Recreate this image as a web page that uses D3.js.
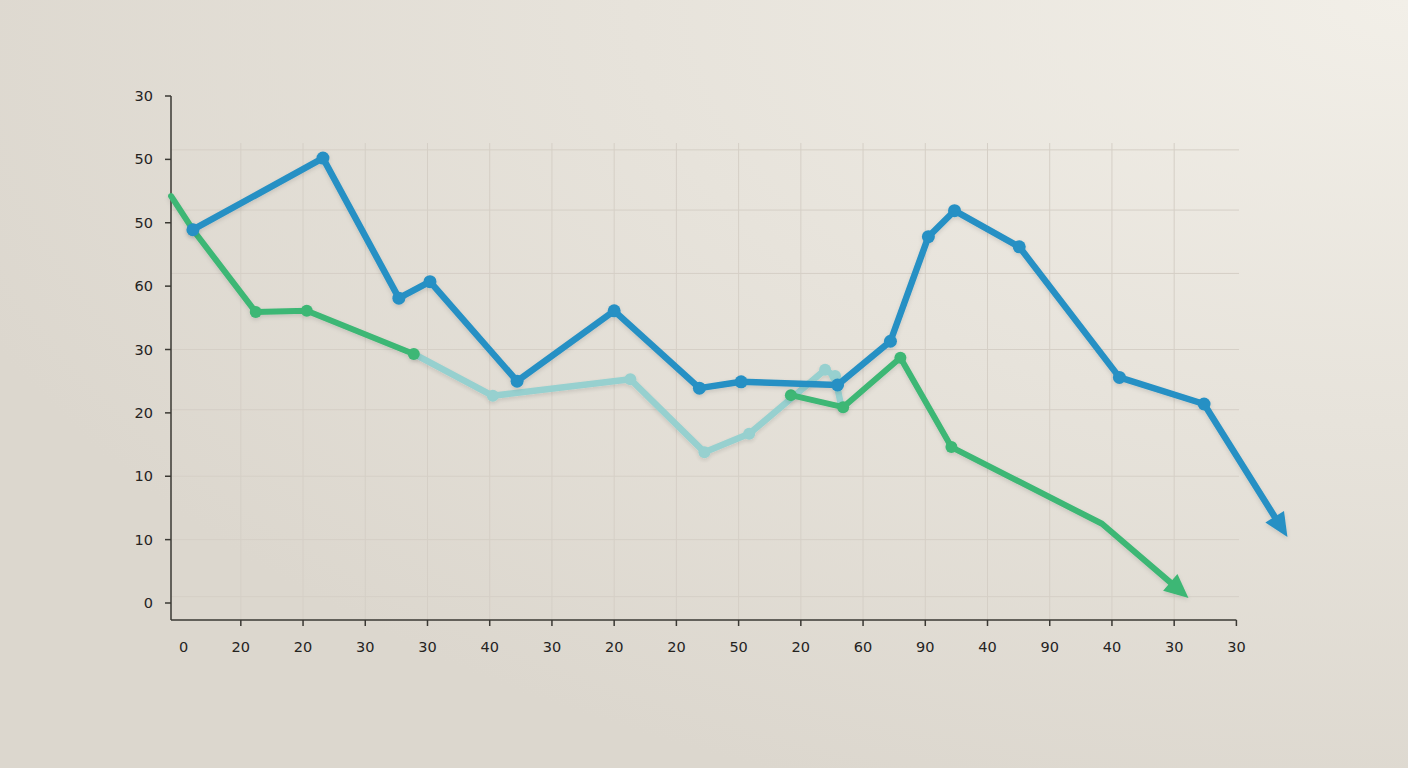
<!DOCTYPE html>
<html>
<head>
<meta charset="utf-8">
<script src="https://cdn.jsdelivr.net/npm/d3@7"></script>
<style>
  html, body { margin: 0; padding: 0; }
  body { width: 1408px; height: 768px; overflow: hidden; }
</style>
</head>
<body>
<svg id="chart" width="1408" height="768"></svg>
<script>
// tick labels as printed on the chart
const xLabels = ["0", "20", "20", "30", "30", "40", "30", "20", "20", "50", "20", "60", "90", "40", "90", "40", "30", "30"];
const yLabels = ["0", "10", "10", "20", "30", "60", "50", "50", "30"];
const yTickValues = [0, 10, 20, 30, 40, 50, 60, 70, 80];
const hGridValues = [1, 10, 20, 30.5, 40, 52, 62, 71.5];

// series, x in category units, y in chart units
const blueX = [0.23, 2.32, 3.54, 4.04, 5.44, 7.00, 8.37, 9.04, 10.59, 11.44, 12.05, 12.47, 13.51, 15.12, 16.48, 17.82];
const blueY = [58.9, 70.2, 48.1, 50.7, 35.0, 46.1, 33.9, 34.9, 34.4, 41.3, 57.8, 61.9, 56.2, 35.6, 31.4, 10.4];

const greenX1 = [-0.12, 0.23, 1.24, 2.06, 3.78];
const greenY1 = [64.2, 58.9, 45.9, 46.1, 39.3];
const greenX2 = [9.84, 10.68, 11.60, 12.42, 14.84, 16.23];
const greenY2 = [32.8, 30.9, 38.7, 24.6, 12.5, 0.8];

const tealX = [3.78, 5.05, 7.26, 8.45, 9.17, 10.39, 10.55, 10.66];
const tealY = [39.3, 32.7, 35.3, 23.8, 26.7, 36.8, 35.8, 30.5];

const svg = d3.select("#chart");
const defs = svg.append("defs");

// background, lightest in the top right corner
const bg = defs.append("radialGradient")
  .attr("id", "bg").attr("cx", "100%").attr("cy", "0%").attr("r", "110%");
bg.append("stop").attr("offset", "0%").attr("stop-color", "#f2efe8");
bg.append("stop").attr("offset", "100%").attr("stop-color", "#dcd7ce");
svg.append("rect").attr("width", 1408).attr("height", 768).attr("fill", "url(#bg)");

const shadow = defs.append("filter").attr("id", "shadow")
  .attr("x", "-10%").attr("y", "-10%").attr("width", "120%").attr("height", "120%");
shadow.append("feDropShadow")
  .attr("dx", 0).attr("dy", 2).attr("stdDeviation", 2)
  .attr("flood-color", "#000").attr("flood-opacity", 0.12);

const x = d3.scaleLinear().domain([0, 17]).range([178.6, 1236.4]);
const y = d3.scaleLinear().domain([0, 80]).range([603, 96]);

const axisX0 = 171, axisY0 = 620;

// grid
const grid = svg.append("g").attr("stroke", "#d5cfc6").attr("stroke-width", 1);
grid.selectAll(".v").data(d3.range(1, 17)).join("line")
  .attr("x1", d => x(d)).attr("x2", d => x(d))
  .attr("y1", 143).attr("y2", axisY0);
grid.selectAll(".h").data(hGridValues).join("line")
  .attr("x1", axisX0).attr("x2", 1239)
  .attr("y1", d => y(d)).attr("y2", d => y(d));

// axes
const axes = svg.append("g").attr("stroke", "#3a3833").attr("stroke-width", 1.5);
axes.append("line").attr("x1", axisX0).attr("x2", axisX0).attr("y1", y(80)).attr("y2", axisY0);
axes.append("line").attr("x1", axisX0).attr("x2", x(17)).attr("y1", axisY0).attr("y2", axisY0);
axes.selectAll(".yt").data(yTickValues).join("line")
  .attr("x1", axisX0 - 6).attr("x2", axisX0)
  .attr("y1", d => y(d)).attr("y2", d => y(d));
axes.selectAll(".xt").data(d3.range(1, 18)).join("line")
  .attr("x1", d => x(d)).attr("x2", d => x(d))
  .attr("y1", axisY0).attr("y2", axisY0 + 6);

const labelFont = "'DejaVu Sans', 'Open Sans', sans-serif";
svg.append("g").selectAll("text").data(yTickValues).join("text")
  .attr("x", 153).attr("y", d => y(d)).attr("dy", "0.35em")
  .attr("text-anchor", "end")
  .attr("font-family", labelFont).attr("font-size", 14.5).attr("fill", "#25231f")
  .text((d, i) => yLabels[i]);
svg.append("g").selectAll("text").data(xLabels).join("text")
  .attr("x", (d, i) => i === 0 ? x(0) + 5 : x(i)).attr("y", 652)
  .attr("text-anchor", "middle")
  .attr("font-family", labelFont).attr("font-size", 14.5).attr("fill", "#25231f")
  .text(d => d);

const toPts = (xs, ys) => xs.map((v, i) => [x(v), y(ys[i])]);
const line = d3.line();

function drawSeries(pts, color, width, opacity, arrow, dots, r) {
  const g = svg.append("g").attr("filter", "url(#shadow)").attr("opacity", opacity);
  let path = pts.slice();
  if (arrow) {
    const [tx, ty] = pts[pts.length - 1];
    const [px, py] = pts[pts.length - 2];
    const a = Math.atan2(ty - py, tx - px);
    const len = 24, half = 11;
    const bx = tx - len * Math.cos(a), by = ty - len * Math.sin(a);
    path[path.length - 1] = [bx + 2 * Math.cos(a), by + 2 * Math.sin(a)];
    g.append("path")
      .attr("d", line(path))
      .attr("fill", "none").attr("stroke", color).attr("stroke-width", width)
      .attr("stroke-linejoin", "round").attr("stroke-linecap", "round");
    g.append("path")
      .attr("d", `M${tx},${ty}L${bx + half * Math.sin(a)},${by - half * Math.cos(a)}L${bx - half * Math.sin(a)},${by + half * Math.cos(a)}Z`)
      .attr("fill", color);
  } else {
    g.append("path")
      .attr("d", line(path))
      .attr("fill", "none").attr("stroke", color).attr("stroke-width", width)
      .attr("stroke-linejoin", "round").attr("stroke-linecap", "round");
  }
  g.selectAll("circle").data(dots).join("circle")
    .attr("cx", i => pts[i][0]).attr("cy", i => pts[i][1])
    .attr("r", r).attr("fill", color);
}

const tealPts = toPts(tealX, tealY);
drawSeries(tealPts, "#93d0cf", 6.5, 0.95, false, [1, 2, 3, 4, 5, 6], 6);

const greenPts1 = toPts(greenX1, greenY1);
drawSeries(greenPts1, "#3db774", 6, 1, false, [1, 2, 3, 4], 6);
const greenPts2 = toPts(greenX2, greenY2);
drawSeries(greenPts2, "#3db774", 6, 1, true, [0, 1, 2, 3], 6);

const bluePts = toPts(blueX, blueY);
drawSeries(bluePts, "#2690c4", 6.5, 1, true, d3.range(0, 15), 6.5);
</script>
</body>
</html>
